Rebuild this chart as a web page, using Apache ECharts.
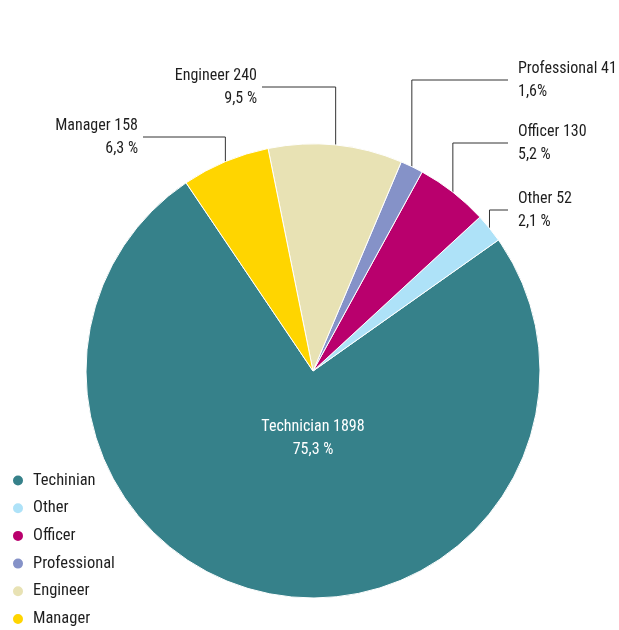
<!DOCTYPE html>
<html><head><meta charset="utf-8">
<script src="https://cdn.jsdelivr.net/npm/echarts@6/dist/echarts.min.js"></script>
<style>html,body{margin:0;padding:0;background:#fff}#c{width:619px;height:630px}</style>
</head><body><div id="c"></div>
<script>
// ---- data ----
const categories = ['Techinian', 'Other', 'Officer', 'Professional', 'Engineer', 'Manager'];
const labelNames = ['Technician', 'Other', 'Officer', 'Professional', 'Engineer', 'Manager'];
const values = [1898, 52, 130, 41, 240, 158];
const percentLabels = ['75,3 %', '2,1 %', '5,2 %', '1,6%', '9,5 %', '6,3 %'];
const colors = ['#36818A', '#AEE2F8', '#B9006D', '#8592C8', '#E8E2B4', '#FFD500'];

// ---- layout ----
const FONT = "'Liberation Sans Narrow', 'Arial Narrow', 'Roboto Condensed', 'Liberation Sans', sans-serif";
const CX = 313, CY = 371, R = 227, START = 124;
const labelPos = [
  [313, 438, 'center'],
  [518, 210, 'left'],
  [518, 143, 'left'],
  [518, 80, 'left'],
  [257, 87, 'right'],
  [138, 137, 'right']
];

const total = values.reduce((a, b) => a + b, 0);
function anchorOf(i) {
  let cum = 0;
  for (let k = 0; k < i; k++) cum += values[k];
  const a = (START + (cum + values[i] / 2) / total * 360) * Math.PI / 180;
  return [CX + R * Math.cos(a), CY - R * Math.sin(a)];
}

const chart = echarts.init(document.getElementById('c'), null, {renderer: 'canvas'});
chart.setOption({
  animation: false,
  backgroundColor: '#fff',
  legend: {
    orient: 'vertical', left: 11, top: 472, height: 170, padding: 0,
    data: categories, icon: 'circle',
    itemWidth: 20, itemHeight: 12, itemGap: 10.7,
    selectedMode: false,
    textStyle: {fontFamily: FONT, fontSize: 16.5, color: '#1e1e1e', lineHeight: 16}
  },
  series: [{
    type: 'pie',
    center: [CX, CY], radius: R,
    startAngle: START, clockwise: false,
    avoidLabelOverlap: false,
    emphasis: {disabled: true},
    itemStyle: {borderColor: '#fff', borderWidth: 1},
    label: {
      show: true, position: 'outside',
      formatter: p => labelNames[p.dataIndex] + ' ' + p.value + '\n' + percentLabels[p.dataIndex],
      fontFamily: FONT, fontSize: 16, color: '#1e1e1e', lineHeight: 23
    },
    labelLine: {show: true, length: 10, length2: 10, lineStyle: {color: '#333', width: 1}},
    labelLayout: function (params) {
      const i = params.dataIndex;
      const [lx, ly, al] = labelPos[i];
      const out = {x: lx, y: ly, align: al, verticalAlign: 'middle'};
      if (i > 0) {
        const pts = params.labelLinePoints;
        const anc = (pts && pts[0]) ? pts[0] : anchorOf(i);
        const sx = al === 'left' ? lx - 10 : lx + 5;
        out.labelLinePoints = [[sx, ly], [anc[0], ly], [anc[0], anc[1]]];
      }
      return out;
    },
    data: categories.map((n, i) => {
      const d = {name: n, value: values[i], itemStyle: {color: colors[i]}};
      if (i === 0) { d.label = {position: 'inside', color: '#fff'}; d.labelLine = {show: false}; }
      return d;
    })
  }]
});
</script>
</body></html>
